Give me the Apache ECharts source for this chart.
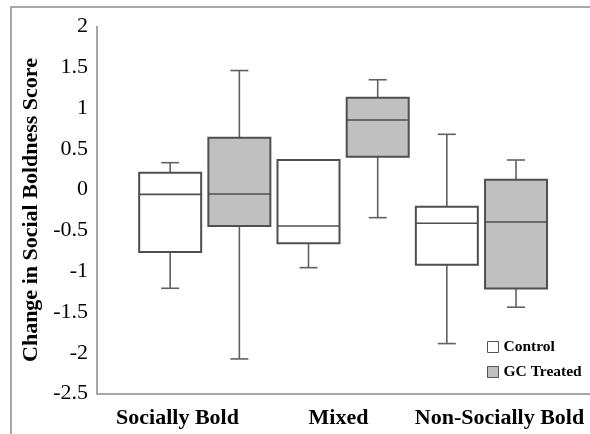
<!DOCTYPE html>
<html>
<head>
<meta charset="utf-8">
<script src="https://cdn.jsdelivr.net/npm/echarts@6/dist/echarts.min.js"></script>
<style>
  html, body { margin: 0; padding: 0; background: #fff; }
  #chart { width: 590px; height: 434px; }
</style>
</head>
<body>
<div id="chart"></div>
<script>
// Group labels along the x axis
const groups = ['Socially Bold', 'Mixed', 'Non-Socially Bold'];
const seriesNames = ['Control', 'GC Treated'];

// Box summaries per group: [whisker low, Q1, median, Q3, whisker high]
const controlBoxes = [
  [-1.21, -0.765, -0.058, 0.207, 0.33],
  [-0.957, -0.658, -0.446, 0.363, 0.363],
  [-1.888, -0.92, -0.413, -0.21, 0.678]
];
const gcBoxes = [
  [-2.076, -0.446, -0.054, 0.636, 1.46],
  [-0.344, 0.403, 0.853, 1.126, 1.347],
  [-1.442, -1.214, -0.397, 0.121, 0.363]
];

// Value axis range and step of the tick labels
const yMin = -2.5;
const yMax = 2;
const yStep = 0.5;

const SERIF = 'Liberation Serif';
const AXIS_GRAY = '#8a8a8a';
const BOX_W = 62;
const CAP_W = 18;
const PAIR_OFFSET = 34.6;

function makeRender(offset, fill) {
  return function (params, api) {
    const i = api.value(0);
    const lo = api.coord([i, api.value(1)]);
    const q1 = api.coord([i, api.value(2)]);
    const md = api.coord([i, api.value(3)]);
    const q3 = api.coord([i, api.value(4)]);
    const hi = api.coord([i, api.value(5)]);
    const cx = lo[0] + offset;
    const hw = BOX_W / 2;
    const cw = CAP_W / 2;
    const whisker = { stroke: '#616161', lineWidth: 1.6 };
    return {
      type: 'group',
      children: [
        { type: 'line', shape: { x1: cx, y1: hi[1], x2: cx, y2: q3[1] }, style: whisker },
        { type: 'line', shape: { x1: cx, y1: q1[1], x2: cx, y2: lo[1] }, style: whisker },
        { type: 'line', shape: { x1: cx - cw, y1: hi[1], x2: cx + cw, y2: hi[1] }, style: whisker },
        { type: 'line', shape: { x1: cx - cw, y1: lo[1], x2: cx + cw, y2: lo[1] }, style: whisker },
        {
          type: 'rect',
          shape: { x: cx - hw, y: q3[1], width: BOX_W, height: q1[1] - q3[1] },
          style: { fill: fill, stroke: '#4f4f4f', lineWidth: 2 }
        },
        { type: 'line', shape: { x1: cx - hw, y1: md[1], x2: cx + hw, y2: md[1] }, style: { stroke: '#4f4f4f', lineWidth: 1.6 } }
      ]
    };
  };
}

function toRows(boxes) {
  return boxes.map(function (b, i) { return [i].concat(b); });
}

const chart = echarts.init(document.getElementById('chart'), null, { renderer: 'canvas' });

const hiddenY = { type: 'value', min: yMin, max: yMax, interval: yStep, show: false };

chart.setOption({
  backgroundColor: '#fff',
  animation: false,
  graphic: [{
    // frame edges along the left and top of the figure
    type: 'polyline',
    silent: true,
    z: -10,
    shape: { points: [[11, 460], [11, 7], [620, 7]] },
    style: { fill: 'none', stroke: '#8c8c8c', lineWidth: 1.5 }
  }],
  grid: [
    { left: 97, right: 0, top: 26.5, bottom: 40.5 },
    { left: 97, right: 10, top: 26.5, bottom: 40.5 },
    { left: 135.6, right: 39.4, top: 26.5, bottom: 40.5 }
  ],
  xAxis: [
    {
      gridIndex: 0, type: 'category', data: groups,
      axisLine: { onZero: false, lineStyle: { color: AXIS_GRAY, width: 1.5 } },
      axisTick: { show: false },
      axisLabel: { show: false }
    },
    {
      gridIndex: 1, type: 'category', data: groups,
      axisLine: { show: false },
      axisTick: { show: false },
      axisLabel: {
        interval: 0, margin: 14, color: '#000',
        fontFamily: SERIF, fontWeight: 'bold', fontSize: 22
      }
    },
    { gridIndex: 2, type: 'category', data: groups, show: false }
  ],
  yAxis: [
    {
      gridIndex: 0, type: 'value', min: yMin, max: yMax, interval: yStep,
      axisLine: { show: true, onZero: false, lineStyle: { color: AXIS_GRAY, width: 1.5 } },
      axisTick: { show: false },
      splitLine: { show: false },
      axisLabel: {
        margin: 9, color: '#000', fontFamily: SERIF, fontSize: 22,
        padding: [5, 0, 0, 0]
      },
      name: 'Change in Social Boldness Score',
      nameLocation: 'middle',
      nameGap: 53,
      nameTextStyle: { color: '#000', fontFamily: SERIF, fontWeight: 'bold', fontSize: 22 }
    },
    Object.assign({ gridIndex: 1 }, hiddenY),
    Object.assign({ gridIndex: 2 }, hiddenY)
  ],
  legend: {
    orient: 'vertical',
    left: 487,
    top: 339,
    padding: 0,
    icon: 'rect',
    itemWidth: 11,
    itemHeight: 11,
    itemGap: 9,
    textStyle: { color: '#000', fontFamily: SERIF, fontWeight: 'bold', fontSize: 15.5 },
    data: [
      { name: seriesNames[0], itemStyle: { color: '#ffffff', borderColor: '#555', borderWidth: 1 } },
      { name: seriesNames[1], itemStyle: { color: '#bfbfbf', borderColor: '#555', borderWidth: 1 } }
    ]
  },
  series: [
    {
      name: seriesNames[0], type: 'custom', xAxisIndex: 2, yAxisIndex: 2,
      itemStyle: { color: '#ffffff', borderColor: '#555' },
      encode: { x: 0, y: [1, 2, 3, 4, 5] },
      renderItem: makeRender(-PAIR_OFFSET, '#ffffff'),
      data: toRows(controlBoxes)
    },
    {
      name: seriesNames[1], type: 'custom', xAxisIndex: 2, yAxisIndex: 2,
      itemStyle: { color: '#bfbfbf', borderColor: '#555' },
      encode: { x: 0, y: [1, 2, 3, 4, 5] },
      renderItem: makeRender(PAIR_OFFSET, '#c0c0c0'),
      data: toRows(gcBoxes)
    }
  ]
});
</script>
</body>
</html>
